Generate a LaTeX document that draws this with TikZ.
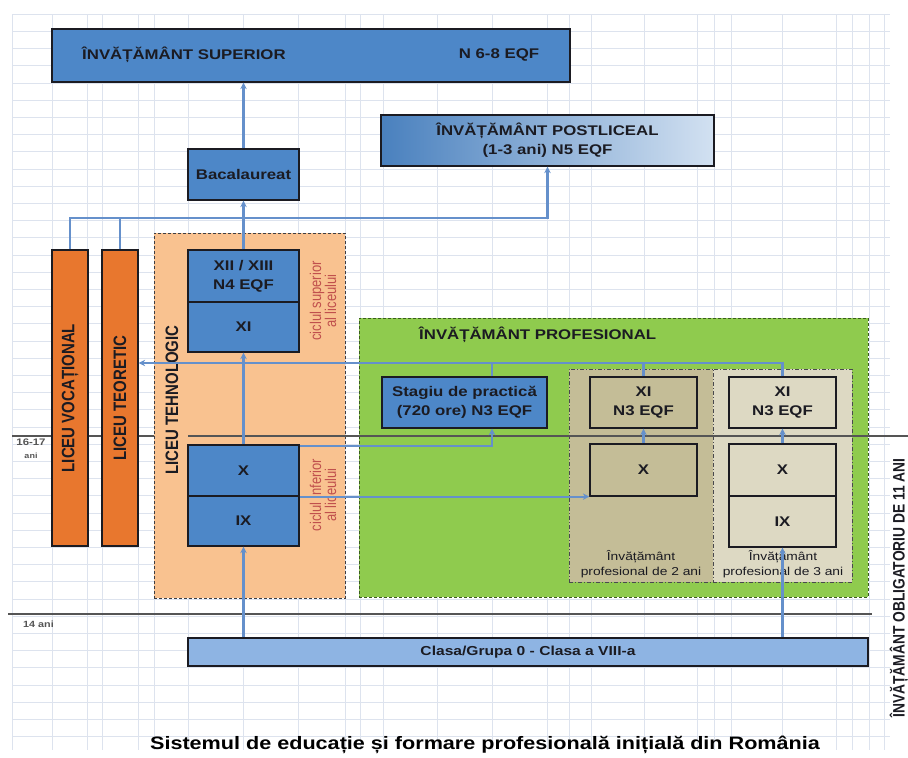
\documentclass[tikz,border=0pt]{standalone}
\usepackage{fontspec}
\setmainfont{Liberation Sans}[FakeStretch=1.2]
\newfontfamily\rotfont{Liberation Sans}
\usepackage{graphicx}
\usetikzlibrary{arrows.meta}
\definecolor{gridc}{HTML}{DDE3EE}
\definecolor{boxblue}{HTML}{4D87C8}
\definecolor{lightblue}{HTML}{8EB4E3}
\definecolor{orangebar}{HTML}{E8772E}
\definecolor{peach}{HTML}{F9C290}
\definecolor{greenbg}{HTML}{8FCB4E}
\definecolor{greenbd}{HTML}{3A5A20}
\definecolor{tan}{HTML}{C4BD97}
\definecolor{beige}{HTML}{DDD9C3}
\definecolor{conn}{HTML}{6590CB}
\definecolor{agec}{HTML}{555555}
\definecolor{txt}{HTML}{1B1B22}
\definecolor{redt}{HTML}{C0504D}
\newcommand\vstretch[1]{\scalebox{1}[1.2]{#1}}
\begin{document}
\begin{tikzpicture}[x=1pt,y=-1pt,
  box/.style={draw=txt, line width=1.3pt, fill=boxblue, inner sep=0pt, align=center,
              text=txt, font=\bfseries\fontsize{14}{19}\selectfont},
  cont/.style={draw=txt!85, line width=0.9pt, dash pattern=on 3pt off 2pt, inner sep=0pt},
  contdd/.style={draw=txt!80, line width=0.9pt, dash pattern=on 4pt off 2pt on 1pt off 2pt, inner sep=0pt},
  bar/.style={draw=txt, line width=1.3pt, fill=orangebar, minimum width=36pt, minimum height=296pt, inner sep=0pt},
  conn/.style={draw=conn, line width=2.2pt},
  tip/.style={-{Stealth[length=6.5pt,width=6.5pt]}},
  age/.style={draw=agec, line width=1.2pt},
  rot/.style={rotate=90, text=txt, font=\rotfont\bfseries\fontsize{15}{18}\selectfont},
  red/.style={rotate=90, text=redt, align=center, font=\rotfont\fontsize{13}{15}\selectfont},
  lbl/.style={text=txt, font=\bfseries\fontsize{14}{19}\selectfont, inner sep=0pt},
]
\useasboundingbox (0,0) rectangle (908,758);
\fill[white] (0,0) rectangle (908,758);
% grid
\foreach \i in {0,...,42}
  \draw[gridc, line width=0.6pt] (12,14+\i*17.2) -- (890,14+\i*17.2);
\foreach \xx in {12,52,87,102,138,154,188,243,298,345,360,383,437,492,547,569,591,644,697,714,731,782,836,852,869,884}
  \draw[gridc, line width=0.6pt] (\xx,14) -- (\xx,750);

% containers
\node[cont, fill=peach, minimum width=191pt, minimum height=365pt] (teh) at (249.5,415.5) {};
\node[cont, draw=greenbd, fill=greenbg, minimum width=509pt, minimum height=279pt] (green) at (613.5,457.5) {};
\node[contdd, fill=tan, minimum width=144pt, minimum height=213pt] (p2) at (641,475.5) {};
\node[contdd, fill=beige, minimum width=139pt, minimum height=213pt] (p3) at (782.5,475.5) {};

% age lines
\draw[age] (12,436) -- (154,436);
\draw[age] (188,436) -- (908,436);
\draw[age] (8,614) -- (872,614);
\node[text=agec, font=\bfseries\fontsize{9.5}{10}\selectfont, inner sep=0pt] (a16) at (31,442) {16-17};
\node[text=agec, font=\bfseries\fontsize{7.5}{8}\selectfont, inner sep=0pt] (a16b) at (31,456) {ani};
\node[text=agec, font=\bfseries\fontsize{9}{10}\selectfont, inner sep=0pt, anchor=west] (a14) at (23,624) {14 ani};

% top boxes
\node[box, minimum width=518pt, minimum height=53pt] (sup) at (311,55.5) {};
\node[lbl, anchor=west] (supt) at (82,55) {ÎNVĂȚĂMÂNT SUPERIOR};
\node[lbl] (supn) at (499,55) {N 6-8 EQF};
\node[box, left color=boxblue!95!black, right color=boxblue!25!white, minimum width=333pt, minimum height=51pt] (post) at (547.5,140.5) {ÎNVĂȚĂMÂNT POSTLICEAL\\(1-3 ani) N5 EQF};
\node[box, minimum width=111pt, minimum height=51pt] (bac) at (243.5,174.5) {Bacalaureat};

% lyceum bars
\node[bar] (voc) at (70,398) {};
\node[bar] (teo) at (120,398) {};
\node[rot] (voct) at (70,398) {\vstretch{LICEU VOCAȚIONAL}};
\node[rot] (teot) at (120,398) {\vstretch{LICEU TEORETIC}};
\node[rot] (teht) at (172,400) {\vstretch{LICEU TEHNOLOGIC}};

% technological lyceum
\node[box, minimum width=111pt, minimum height=52pt] (xii) at (243.5,276) {XII / XIII\\N4 EQF};
\node[box, minimum width=111pt, minimum height=50pt] (xi) at (243.5,327) {XI};
\node[box, minimum width=111pt, minimum height=51pt] (x) at (243.5,470.5) {X};
\node[box, minimum width=111pt, minimum height=50pt] (ix) at (243.5,521) {IX};
\node[red] (csup) at (323,301) {\vstretch{ciclul superior}\\\vstretch{al liceului}};
\node[red] (cinf) at (323,495) {\vstretch{ciclul inferior}\\\vstretch{al liceului}};

% professional education
\node[lbl, anchor=west] (prof) at (419,335) {ÎNVĂȚĂMÂNT PROFESIONAL};
\node[box, minimum width=165pt, minimum height=51pt] (stag) at (464.5,402.5) {Stagiu de practică\\(720 ore) N3 EQF};
\node[box, fill=tan, minimum width=107pt, minimum height=51pt] (p2xi) at (643.5,402.5) {XI\\N3 EQF};
\node[box, fill=tan, minimum width=107pt, minimum height=52pt] (p2x) at (643.5,470) {X};
\node[box, fill=beige, minimum width=107pt, minimum height=51pt] (p3xi) at (782.5,402.5) {XI\\N3 EQF};
\node[box, fill=beige, minimum width=107pt, minimum height=52pt] (p3x) at (782.5,470) {X};
\node[box, fill=beige, minimum width=107pt, minimum height=51pt] (p3ix) at (782.5,521.5) {IX};
\node[text=txt, align=center, font=\fontsize{11.5}{15}\selectfont, inner sep=0pt] (p2t) at (641,564.5) {Învățământ\\profesional de 2 ani};
\node[text=txt, align=center, font=\fontsize{11.5}{15}\selectfont, inner sep=0pt] (p3t) at (783,564.5) {Învățământ\\profesional de 3 ani};

% base
\node[box, fill=lightblue, minimum width=680pt, minimum height=28pt, font=\bfseries\fontsize{13}{15}\selectfont] (clasa) at (528,652) {Clasa/Grupa 0 - Clasa a VIII-a};

% right and bottom texts
\node[rot, font=\rotfont\bfseries\fontsize{13.8}{15}\selectfont] (oblig) at (899,588) {\vstretch{ÎNVĂȚĂMÂNT OBLIGATORIU DE 11 ANI}};
\node[text=black, font=\bfseries\fontsize{18}{20}\selectfont, inner sep=0pt] (title) at (485,745) {Sistemul de educație și formare profesională inițială din România};

% connectors
\coordinate (busA) at (0,218);
\coordinate (busB) at (0,363);
\coordinate (sb) at (492,0);
\draw[conn, tip] (bac.north) -- (bac.north |- sup.south);
\draw[conn, tip] (xii.north) -- (bac.south);
\draw[conn, tip] (voc.north) |- (post.south |- busA) -- (post.south);
\draw[conn] (teo.north) -- (teo.north |- busA);
\draw[conn, tip] (x.north) -- (xi.south);
\draw[conn, tip] (p3xi.north) -- (p3xi.north |- busB) -- (teo.east |- busB);
\draw[conn] (p2xi.north) -- (p2xi.north |- busB);
\draw[conn] (sb |- stag.north) -- (sb |- busB);
\draw[conn, tip] ([yshift=-2pt]x.north east) -| (sb |- stag.south);
\draw[conn, tip] (x.south east) -- (p2x.south west);
\draw[conn, tip] (p2x.north) -- (p2xi.south);
\draw[conn, tip] (p3x.north) -- (p3xi.south);
\draw[conn, tip] (ix.south |- clasa.north) -- (ix.south);
\draw[conn, tip] (p3ix.south |- clasa.north) -- (p3ix.south);
\end{tikzpicture}
\end{document}
